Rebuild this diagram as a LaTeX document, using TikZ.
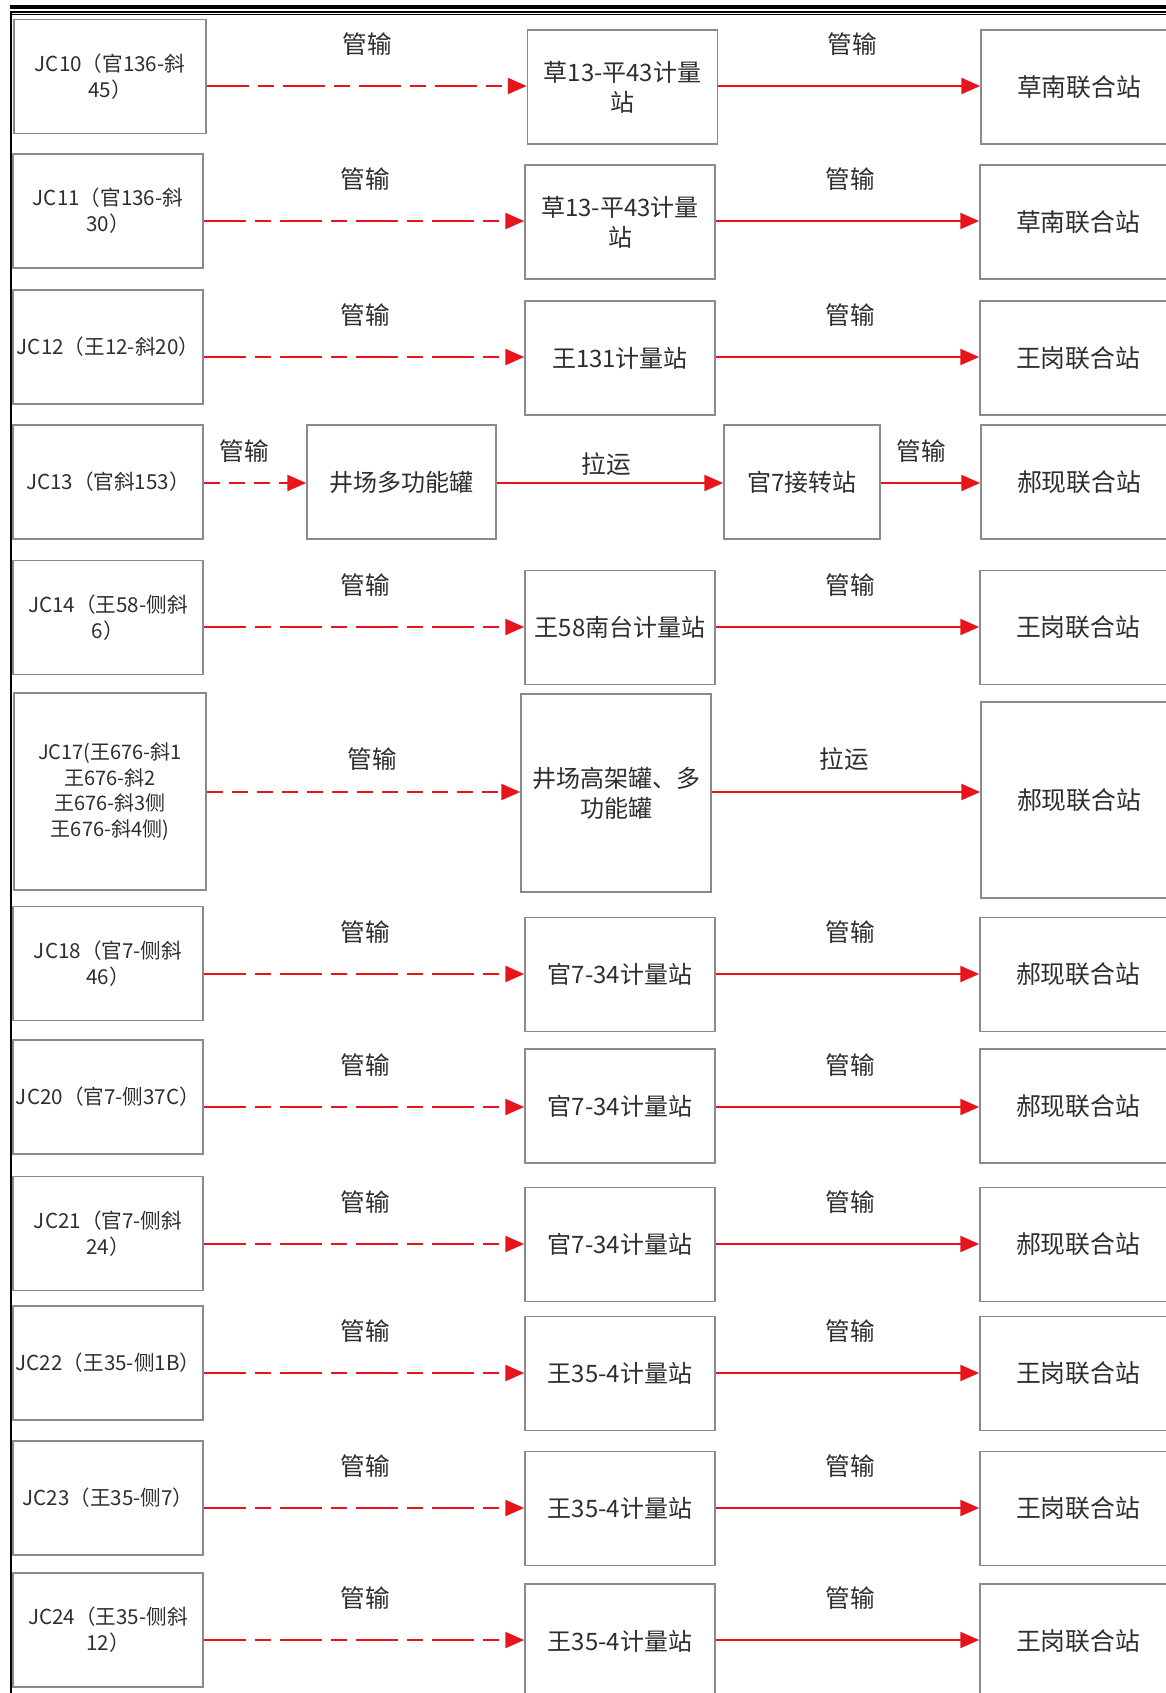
\documentclass[tikz,border=0pt]{standalone}
\usepackage{fontspec}
\setmainfont{Noto Sans CJK SC}
\usetikzlibrary{arrows.meta}
\definecolor{boxgray}{HTML}{8A8A8A}
\definecolor{linered}{HTML}{E8141B}
\definecolor{txt}{HTML}{2E2E2E}
\begin{document}
\begin{tikzpicture}[x=0.5pt,y=-0.5pt,
  box/.style={draw=boxgray, line width=0.75pt, fill=white, inner sep=0pt, align=center, text=txt,
    minimum width=95pt, minimum height=57pt, font=\fontsize{12}{15}\selectfont},
  lbox/.style={box, font=\fontsize{10.3}{13}\selectfont},
  rbox/.style={box, minimum width=98pt, font=\fontsize{12.4}{15}\selectfont},
  lab/.style={text=txt, inner sep=0pt, font=\fontsize{12.3}{14}\selectfont},
  flow/.style={draw=linered, line width=1.15pt, -{Triangle[length=9.5pt,width=8pt]}},
  pipe/.style={flow, dash pattern=on 21pt off 4.5pt on 8pt off 4.5pt},
  pipeu/.style={flow, dash pattern=on 8pt off 4.5pt},
]
\path[use as bounding box] (0,0) rectangle (1166,1693);
\clip (0,0) rectangle (1166,1693);
\fill[white] (0,0) rectangle (1166,1693);

% frame lines
\draw[black, line width=2.1pt] (10,7) -- (1166,7);
\draw[black, line width=0.9pt] (10,12) -- (1166,12);
\draw[black, line width=0.7pt] (10,14.3) -- (1166,14.3);
\draw[black, line width=1pt] (11,11) -- (11,1693);

% row coordinates (arrow levels)
\coordinate (y1) at (0,86);
\coordinate (y2) at (0,221);
\coordinate (y3) at (0,357);
\coordinate (y4) at (0,483);
\coordinate (y5) at (0,627);
\coordinate (y6) at (0,792);
\coordinate (y7) at (0,974);
\coordinate (y8) at (0,1107);
\coordinate (y9) at (0,1244);
\coordinate (y10) at (0,1373);
\coordinate (y11) at (0,1508);
\coordinate (y12) at (0,1640);

% Row 1
\node[lbox, minimum width=96pt] (L1) at (110,76.5) {JC10（官136-斜\\45）};
\node[box] (M1) at (622.5,87) {草13-平43计量\\站};
\node[rbox] (R1) at (1079,87) {草南联合站};
\draw[pipe] (L1.east |- y1) -- (M1.west |- y1);
\draw[flow] (M1.east |- y1) -- (R1.west |- y1);
\node[lab] (a1) at (367,44) {管输};
\node[lab] (b1) at (852,44) {管输};

% Row 2
\node[lbox] (L2) at (108,211) {JC11（官136-斜\\30）};
\node[box] (M2) at (620,222) {草13-平43计量\\站};
\node[rbox] (R2) at (1078,222) {草南联合站};
\draw[pipe] (L2.east |- y2) -- (M2.west |- y2);
\draw[flow] (M2.east |- y2) -- (R2.west |- y2);
\node[lab] (a2) at (365,179) {管输};
\node[lab] (b2) at (850,179) {管输};

% Row 3
\node[lbox] (L3) at (108,347) {JC12（王12-斜20）};
\node[box] (M3) at (620,358) {王131计量站};
\node[rbox] (R3) at (1078,358) {王岗联合站};
\draw[pipe] (L3.east |- y3) -- (M3.west |- y3);
\draw[flow] (M3.east |- y3) -- (R3.west |- y3);
\node[lab] (a3) at (365,315) {管输};
\node[lab] (b3) at (850,315) {管输};

% Row 4
\node[lbox] (L4) at (108,482) {JC13（官斜153）};
\node[box, minimum width=94.5pt] (P4) at (401.5,482) {井场多功能罐};
\node[box, minimum width=78pt] (Q4) at (802,482) {官7接转站};
\node[rbox] (R4) at (1079,482) {郝现联合站};
\draw[pipeu] (L4.east |- y4) -- (P4.west |- y4);
\draw[flow] (P4.east |- y4) -- (Q4.west |- y4);
\draw[flow] (Q4.east |- y4) -- (R4.west |- y4);
\node[lab] (a4) at (244,451) {管输};
\node[lab] (b4) at (606,464) {拉运};
\node[lab] (c4) at (921,451) {管输};

% Row 5
\node[lbox] (L5) at (108,617.5) {JC14（王58-侧斜\\6）};
\node[box] (M5) at (620,627.5) {王58南台计量站};
\node[rbox] (R5) at (1078,627.5) {王岗联合站};
\draw[pipe] (L5.east |- y5) -- (M5.west |- y5);
\draw[flow] (M5.east |- y5) -- (R5.west |- y5);
\node[lab] (a5) at (365,585) {管输};
\node[lab] (b5) at (850,585) {管输};

% Row 6
\node[lbox, minimum width=96pt, minimum height=98.5pt, font=\fontsize{10}{12.8}\selectfont] (L6) at (110,791.5)
  {JC17(王676-斜1\\王676-斜2\\王676-斜3侧\\王676-斜4侧)};
\node[box, minimum height=99pt] (M6) at (616,793) {井场高架罐、多\\功能罐};
\node[rbox, minimum height=98pt] (R6) at (1079,800) {郝现联合站};
\draw[pipeu] (L6.east |- y6) -- (M6.west |- y6);
\draw[flow] (M6.east |- y6) -- (R6.west |- y6);
\node[lab] (a6) at (372,759) {管输};
\node[lab] (b6) at (844,759) {拉运};

% Row 7
\node[lbox] (L7) at (108,963.5) {JC18（官7-侧斜\\46）};
\node[box] (M7) at (620,974.5) {官7-34计量站};
\node[rbox] (R7) at (1078,974.5) {郝现联合站};
\draw[pipe] (L7.east |- y7) -- (M7.west |- y7);
\draw[flow] (M7.east |- y7) -- (R7.west |- y7);
\node[lab] (a7) at (365,932) {管输};
\node[lab] (b7) at (850,932) {管输};

% Row 8
\node[lbox] (L8) at (108,1097) {JC20（官7-侧37C）};
\node[box] (M8) at (620,1106) {官7-34计量站};
\node[rbox] (R8) at (1078,1106) {郝现联合站};
\draw[pipe] (L8.east |- y8) -- (M8.west |- y8);
\draw[flow] (M8.east |- y8) -- (R8.west |- y8);
\node[lab] (a8) at (365,1065) {管输};
\node[lab] (b8) at (850,1065) {管输};

% Row 9
\node[lbox] (L9) at (108,1233.5) {JC21（官7-侧斜\\24）};
\node[box] (M9) at (620,1244.5) {官7-34计量站};
\node[rbox] (R9) at (1078,1244.5) {郝现联合站};
\draw[pipe] (L9.east |- y9) -- (M9.west |- y9);
\draw[flow] (M9.east |- y9) -- (R9.west |- y9);
\node[lab] (a9) at (365,1202) {管输};
\node[lab] (b9) at (850,1202) {管输};

% Row 10
\node[lbox] (L10) at (108,1363) {JC22（王35-侧1B）};
\node[box] (M10) at (620,1373.5) {王35-4计量站};
\node[rbox] (R10) at (1078,1373.5) {王岗联合站};
\draw[pipe] (L10.east |- y10) -- (M10.west |- y10);
\draw[flow] (M10.east |- y10) -- (R10.west |- y10);
\node[lab] (a10) at (365,1331) {管输};
\node[lab] (b10) at (850,1331) {管输};

% Row 11
\node[lbox] (L11) at (108,1498) {JC23（王35-侧7）};
\node[box] (M11) at (620,1508.5) {王35-4计量站};
\node[rbox] (R11) at (1078,1508.5) {王岗联合站};
\draw[pipe] (L11.east |- y11) -- (M11.west |- y11);
\draw[flow] (M11.east |- y11) -- (R11.west |- y11);
\node[lab] (a11) at (365,1466) {管输};
\node[lab] (b11) at (850,1466) {管输};

% Row 12
\node[lbox] (L12) at (108,1630) {JC24（王35-侧斜\\12）};
\node[box] (M12) at (620,1641) {王35-4计量站};
\node[rbox] (R12) at (1078,1641) {王岗联合站};
\draw[pipe] (L12.east |- y12) -- (M12.west |- y12);
\draw[flow] (M12.east |- y12) -- (R12.west |- y12);
\node[lab] (a12) at (365,1598) {管输};
\node[lab] (b12) at (850,1598) {管输};
\end{tikzpicture}
\end{document}
